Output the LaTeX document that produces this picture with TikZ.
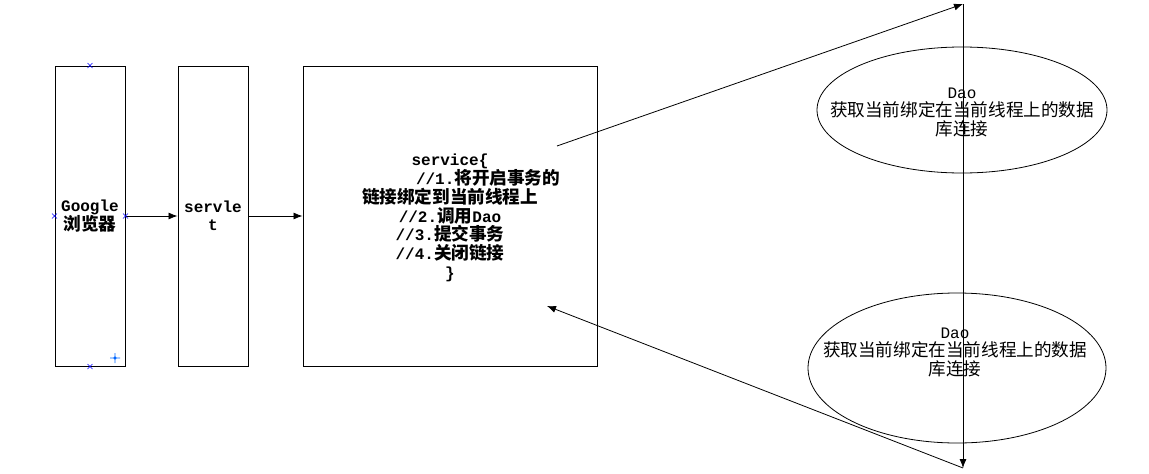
\documentclass[tikz,border=0pt]{standalone}
\usepackage{fontspec}
\setmainfont{Liberation Mono}
\newfontfamily\cjk[Scale=1.1]{Noto Sans CJK SC}
\usepackage{tikz}
\usetikzlibrary{arrows.meta, shapes.geometric}

\tikzset{
  box/.style={draw, line width=1pt, minimum height=300pt, inner sep=0pt, align=center,
    font=\fontsize{16}{18.5}\selectfont\bfseries},
  dbell/.style={draw, ellipse, line width=0.8pt, inner sep=0pt},
  daotxt/.style={align=center, inner sep=0pt, font=\fontsize{16}{18.5}\selectfont},
  arr/.style={-{Latex[length=9pt,width=7pt]}, line width=0.8pt},
  handle/.style={blue, line width=0.6pt}
}

\begin{document}
\begin{tikzpicture}[x=1pt, y=-1pt]
\useasboundingbox (0,0) rectangle (1149,474);

% Request chain
\node[box, minimum width=70pt] (browser) at (90,216) {Google\\{\cjk 浏览器}};
\node[box, minimum width=70pt] (servlet) at (213,216) {servle\\t};
\node[box, minimum width=294pt] (service) at (450,216) {};
\node[daotxt, font=\fontsize{16}{18.8}\selectfont\bfseries] (svctxt) at (450,218)
  {service\{\\\hspace*{76pt}//1.{\cjk 将开启事务的}\\{\cjk 链接绑定到当前线程上}\\//2.{\cjk 调用}Dao\\//3.{\cjk 提交事务}\\//4.{\cjk 关闭链接}\\\}};

\draw[arr] (browser) -- (servlet);
\draw[arr] (servlet) -- (service);

% Selection handles on the browser box
\foreach \p in {browser.north, browser.south, browser.west, browser.east}
  \draw[handle, shift={(\p)}] (-2.5,-2.5) -- (2.5,2.5) (-2.5,2.5) -- (2.5,-2.5);
\draw[handle, blue!60!cyan] (115,358) circle (1.5) (110,358) -- (120,358) (115,353) -- (115,363);

% Dao
\node[dbell, minimum width=290pt, minimum height=126pt] (dao1) at (962,110) {};
\node[daotxt] (dao1txt) at (962,112) {Dao\\{\cjk 获取当前绑定在当前线程上的数据}\\{\cjk 库连接}};
\node[dbell, minimum width=298pt, minimum height=150pt] (dao2) at (957,368) {};
\node[daotxt] (dao2txt) at (955,352) {Dao\\{\cjk 获取当前绑定在当前线程上的数据}\\{\cjk 库连接}};

% Call and return
\coordinate (svcout) at (557,146);
\coordinate (top) at (963,4);
\coordinate (bot) at (963,468);
\coordinate (svcin) at (547,306);
\draw[arr] (svcout) -- (top);
\draw[arr] (top) -- (bot);
\draw[arr] (bot) -- (svcin);
\end{tikzpicture}
\end{document}
